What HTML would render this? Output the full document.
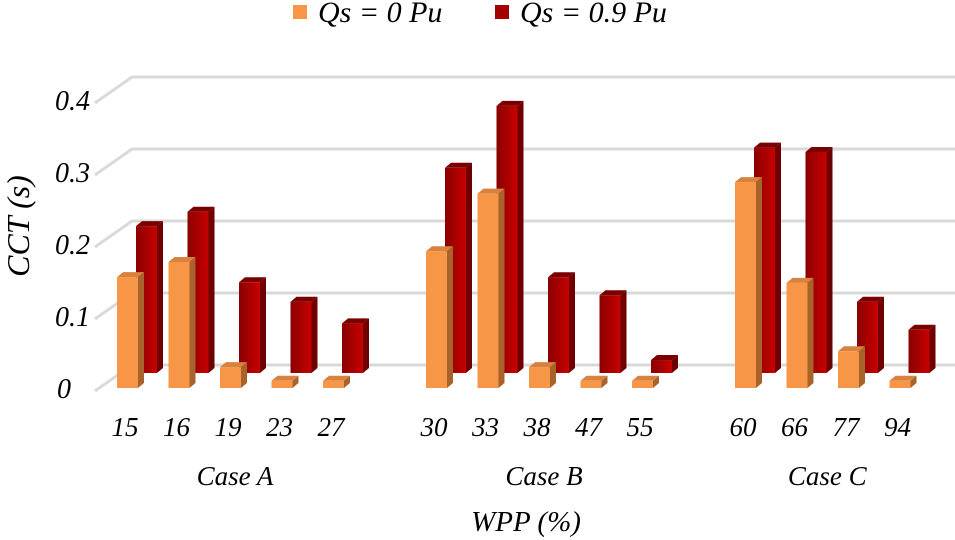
<!DOCTYPE html>
<html><head><meta charset="utf-8"><style>
body{margin:0;background:#fff;width:955px;height:540px;overflow:hidden}
svg{display:block}
text{font-family:"Liberation Serif",serif;font-style:italic;fill:#000}
</style></head><body>
<svg id="chart" width="955" height="540" viewBox="0 0 955 540">
<defs>
<linearGradient id="redg" x1="0" x2="1" y1="0" y2="0"><stop offset="0" stop-color="#8a0000"/><stop offset="1" stop-color="#c80000"/></linearGradient>
</defs>
<g id="grid"></g>
<g id="bars"></g>
<g id="labels"></g>
<g>
<rect x="293" y="5" width="14" height="14" fill="#f79646"/>
<text x="318" y="22" font-size="30">Qs = 0 Pu</text>
<rect x="495" y="5" width="14" height="14" fill="#a50000"/>
<text x="520" y="22" font-size="30">Qs = 0.9 Pu</text>
</g>
<text transform="translate(29,226) rotate(-90)" text-anchor="middle" font-size="32">CCT (s)</text>
<text x="526" y="531" text-anchor="middle" font-size="29">WPP (%)</text>
</svg>
<script>
const categories=["15","16","19","23","27","30","33","38","47","55","60","66","77","94"];
const slots=[0,1,2,3,4,6,7,8,9,10,12,13,14,15];
const qs0=[0.154,0.175,0.029,0.010,0.010,0.190,0.270,0.029,0.010,0.010,0.286,0.146,0.051,0.010];
const qs09=[0.204,0.224,0.126,0.099,0.069,0.285,0.371,0.133,0.108,0.018,0.313,0.307,0.099,0.060];
const groups=["Case A","Case B","Case C"];
const groupCenters=[2,8,13.5];
const yTicks=[0,0.1,0.2,0.3,0.4];
const tickLabels=["0","0.1","0.2","0.3","0.4"];
const NS="http://www.w3.org/2000/svg";
const PX=720, base=388;
function xs(i){return 117+i*51.5;}
function yv(v){return base-v*PX;}
function mk(tag,attrs,parent){const e=document.createElementNS(NS,tag);for(const k in attrs)e.setAttribute(k,attrs[k]);parent.appendChild(e);return e;}
const grid=document.getElementById('grid'),bars=document.getElementById('bars'),labels=document.getElementById('labels');
yTicks.forEach((t,i)=>{
  const y=yv(t)+3;
  const d=mk('path',{d:`M95 ${y} L132 ${y-26} L955 ${y-26}`,stroke:'#d9d9d9','stroke-width':3,fill:'none'},grid);
  
  
  const tx=mk('text',{x:i==0?71:90,y:yv(t)+10,'text-anchor':'end','font-size':28},labels);
  tx.textContent=tickLabels[i];
  
  
});
function bar(x,bottom,h,front,side,top,name){
  const g=mk('g',{},bars);
  
  
  const w=21,dx=6,dy=5,ty=bottom-h;
  mk('polygon',{points:`${x+w},${ty} ${x+w+dx},${ty-dy} ${x+w+dx},${bottom-dy} ${x+w},${bottom}`,fill:side},g);
  mk('polygon',{points:`${x},${ty} ${x+dx},${ty-dy} ${x+w+dx},${ty-dy} ${x+w},${ty}`,fill:top},g);
  mk('rect',{x:x,y:ty,width:w,height:h,fill:front},g);
}
categories.forEach((c,i)=>{
  const x=xs(slots[i]);
  bar(x+19,base-15,qs09[i]*PX,'url(#redg)','#6e0000','#7a0000','bar-qs09-'+c);
});
categories.forEach((c,i)=>{
  const x=xs(slots[i]);
  bar(x,base,qs0[i]*PX,'#f79646','#a8622c','#d9823f','bar-qs0-'+c);
  const t=mk('text',{x:x+8,y:436,'text-anchor':'middle','font-size':27},labels);
  t.textContent=c;
  
  
});
groups.forEach((g,i)=>{
  const t=mk('text',{x:xs(groupCenters[i])+15,y:485,'text-anchor':'middle','font-size':27},labels);
  t.textContent=g;
  
  
});
</script>
</body></html>
